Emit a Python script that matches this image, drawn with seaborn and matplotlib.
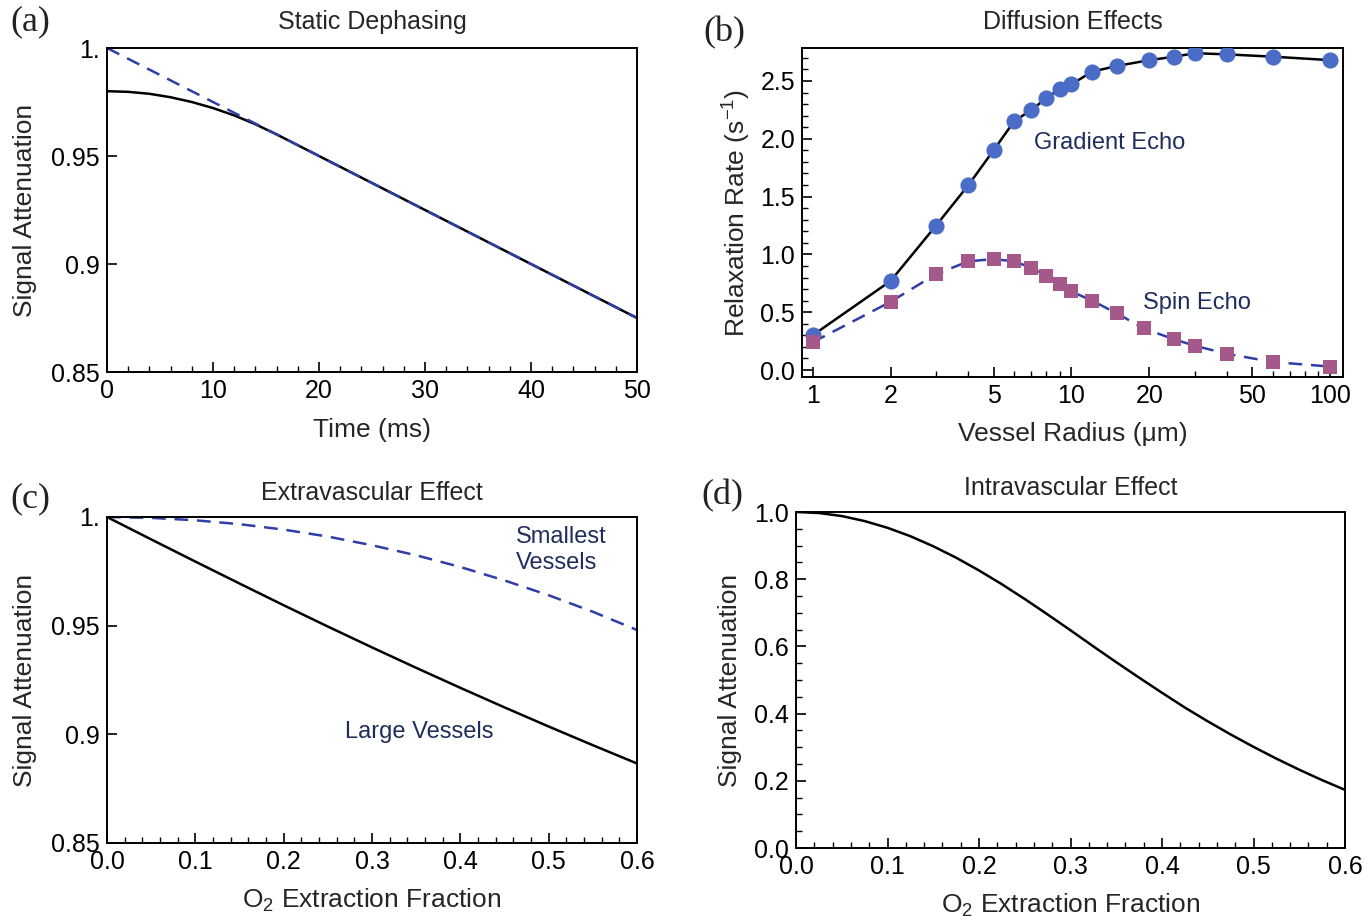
import numpy as np
import pandas as pd
import matplotlib
matplotlib.use("Agg")
import matplotlib.pyplot as plt
import seaborn as sns
from matplotlib.ticker import MultipleLocator, FixedLocator, FixedFormatter, LogLocator, NullFormatter

# ---------------- data ----------------
# (a) Static dephasing
a_time = [0, 2, 4, 6, 8, 10, 12, 14, 16, 18, 20, 30, 40, 50]
a_signal = [0.980, 0.9797, 0.9788, 0.9772, 0.9750, 0.9722, 0.9688, 0.9647,
            0.9600, 0.9550, 0.9500, 0.9250, 0.9000, 0.8750]
a_asym_time = [0, 50]
a_asym_signal = [1.0, 0.875]

# (b) Diffusion effects
b_ge_radius = [1, 2, 3, 4, 5, 6, 7, 8, 9, 10, 12, 15, 20, 25, 30, 40, 60, 100]
b_ge_rate = [0.30, 0.77, 1.25, 1.60, 1.90, 2.15, 2.25, 2.35, 2.43, 2.47, 2.58,
             2.63, 2.68, 2.71, 2.74, 2.73, 2.71, 2.68]
b_se_radius = [1, 2, 3, 4, 5, 6, 7, 8, 9, 10, 12, 15, 19, 25, 30, 40, 60, 100]
b_se_rate = [0.24, 0.59, 0.83, 0.94, 0.96, 0.94, 0.885, 0.815, 0.74, 0.68, 0.60,
             0.49, 0.36, 0.265, 0.21, 0.14, 0.07, 0.03]

# (c) Extravascular effect
c_oef = [0.0, 0.05, 0.1, 0.15, 0.2, 0.25, 0.3, 0.35, 0.4, 0.45, 0.5, 0.55, 0.6]
c_large = [1.0, 0.9897, 0.9795, 0.9694, 0.9594, 0.9496, 0.9400, 0.9306, 0.9214,
           0.9124, 0.9036, 0.8950, 0.8866]
c_small = [1.0, 0.9996, 0.9985, 0.9967, 0.9942, 0.9910, 0.9870, 0.9824, 0.9770,
           0.9708, 0.9640, 0.9564, 0.9480]

# (d) Intravascular effect
d_oef = [0.0, 0.025, 0.05, 0.075, 0.1, 0.125, 0.15, 0.175, 0.2, 0.225, 0.25,
         0.275, 0.3, 0.325, 0.35, 0.375, 0.4, 0.425, 0.45, 0.475, 0.5, 0.525,
         0.55, 0.575, 0.6]
d_signal = [1.000, 0.997, 0.988, 0.973, 0.953, 0.928, 0.898, 0.864, 0.826,
            0.785, 0.741, 0.695, 0.648, 0.600, 0.553, 0.507, 0.462, 0.418,
            0.377, 0.338, 0.301, 0.266, 0.233, 0.202, 0.173]

# ---------------- style ----------------
sns.set_theme(style="ticks")
plt.rcParams["font.family"] = ["Liberation Sans", "DejaVu Sans"]
plt.rcParams["mathtext.fontset"] = "custom"
plt.rcParams["mathtext.rm"] = "Liberation Sans"
plt.rcParams["mathtext.it"] = "Liberation Sans:italic"
plt.rcParams["mathtext.default"] = "rm"

TICK_FS = 18
LABEL_FS = 19
TITLE_FS = 18
ANN_FS = 17
BLUE_DASH = "#2f3ea6"
CIRCLE = "#4a6cc6"
SQUARE = "#a5588a"
NAVY = "#1f2d5c"
DASH = (0, (5.5, 3.5))

W, H = 1370, 916
fig = plt.figure(figsize=(W / 100, H / 100), dpi=100)


def make_ax(l, t, r, b):
    return fig.add_axes([l / W, 1 - b / H, (r - l) / W, (b - t) / H])


def style_ax(ax):
    for s in ax.spines.values():
        s.set_color("black")
        s.set_linewidth(1.4)
    ax.tick_params(which="both", direction="in", top=False, right=False,
                   colors="black", labelsize=TICK_FS, pad=5)
    ax.tick_params(which="major", length=7, width=1.2)
    ax.tick_params(which="minor", length=4, width=1.0)


ax_a = make_ax(107, 48, 637, 372)
ax_b = make_ax(802, 48, 1343, 377)
ax_c = make_ax(107, 517, 637, 843)
ax_d = make_ax(796, 512, 1345, 848)

# ---- (a)
sns.lineplot(x=a_time, y=a_signal, ax=ax_a, color="black", linewidth=1.8,
             estimator=None, sort=False)
sns.lineplot(x=a_asym_time, y=a_asym_signal, ax=ax_a, color=BLUE_DASH,
             linewidth=1.8, estimator=None, sort=False, linestyle=DASH)
ax_a.set_xlim(0, 50)
ax_a.set_ylim(0.85, 1.0)
ax_a.xaxis.set_major_locator(MultipleLocator(10))
ax_a.xaxis.set_minor_locator(MultipleLocator(2))
ax_a.yaxis.set_major_locator(FixedLocator([0.85, 0.9, 0.95, 1.0]))
ax_a.yaxis.set_major_formatter(FixedFormatter(["0.85", "0.9", "0.95", "1."]))
ax_a.set_xlabel("Time (ms)", fontsize=LABEL_FS, labelpad=11)
ax_a.set_ylabel("Signal Attenuation", fontsize=LABEL_FS, labelpad=10)
ax_a.set_title("Static Dephasing", fontsize=TITLE_FS, pad=14)
style_ax(ax_a)

# ---- (b)
sns.lineplot(x=b_ge_radius, y=b_ge_rate, ax=ax_b, color="black", linewidth=1.8,
             estimator=None, sort=False, zorder=2)
sns.lineplot(x=b_se_radius, y=b_se_rate, ax=ax_b, color=BLUE_DASH, linewidth=1.8,
             estimator=None, sort=False, linestyle=DASH, zorder=2)
sns.scatterplot(x=b_ge_radius, y=b_ge_rate, ax=ax_b, color=CIRCLE, marker="o",
                s=135, linewidth=0, zorder=3)
sns.scatterplot(x=b_se_radius, y=b_se_rate, ax=ax_b, color=SQUARE, marker="s",
                s=95, linewidth=0, zorder=3)
ax_b.set_xscale("log")
ax_b.set_xlim(0.91, 112)
ax_b.set_ylim(-0.06, 2.785)
ax_b.xaxis.set_major_locator(FixedLocator([1, 2, 5, 10, 20, 50, 100]))
ax_b.xaxis.set_major_formatter(FixedFormatter(["1", "2", "5", "10", "20", "50", "100"]))
ax_b.xaxis.set_minor_locator(LogLocator(base=10, subs=(3, 4, 6, 7, 8, 9)))
ax_b.xaxis.set_minor_formatter(NullFormatter())
ax_b.yaxis.set_major_locator(MultipleLocator(0.5))
ax_b.yaxis.set_major_formatter(FixedFormatter(["", "0.0", "0.5", "1.0", "1.5", "2.0", "2.5"]))
ax_b.yaxis.set_minor_locator(MultipleLocator(0.1))
ax_b.set_xlabel("Vessel Radius (\u03bcm)", fontsize=LABEL_FS, labelpad=10)
ax_b.set_ylabel("Relaxation Rate (s$^{-1}$)", fontsize=LABEL_FS, labelpad=5)
ax_b.set_title("Diffusion Effects", fontsize=TITLE_FS, pad=14)
ax_b.text(14, 1.96, "Gradient Echo", color=NAVY, fontsize=ANN_FS, ha="center", va="center")
ax_b.text(30.6, 0.58, "Spin Echo", color=NAVY, fontsize=ANN_FS, ha="center", va="center")
style_ax(ax_b)

# ---- (c)
sns.lineplot(x=c_oef, y=c_large, ax=ax_c, color="black", linewidth=1.8,
             estimator=None, sort=False)
sns.lineplot(x=c_oef, y=c_small, ax=ax_c, color=BLUE_DASH, linewidth=1.8,
             estimator=None, sort=False, linestyle=DASH)
ax_c.set_xlim(0, 0.6)
ax_c.set_ylim(0.85, 1.0)
ax_c.xaxis.set_major_locator(MultipleLocator(0.1))
ax_c.xaxis.set_major_formatter(FixedFormatter(["", "0.0", "0.1", "0.2", "0.3", "0.4", "0.5", "0.6"]))
ax_c.xaxis.set_minor_locator(MultipleLocator(0.02))
ax_c.yaxis.set_major_locator(FixedLocator([0.85, 0.9, 0.95, 1.0]))
ax_c.yaxis.set_major_formatter(FixedFormatter(["0.85", "0.9", "0.95", "1."]))
ax_c.set_xlabel("O$_2$ Extraction Fraction", fontsize=LABEL_FS, labelpad=9)
ax_c.set_ylabel("Signal Attenuation", fontsize=LABEL_FS, labelpad=10)
ax_c.set_title("Extravascular Effect", fontsize=TITLE_FS, pad=12)
ax_c.text(0.463, 0.9848, "Smallest\nVessels", color=NAVY, fontsize=ANN_FS,
          ha="left", va="center", multialignment="left", linespacing=1.25)
ax_c.text(0.354, 0.901, "Large Vessels", color=NAVY, fontsize=ANN_FS, ha="center", va="center")
style_ax(ax_c)

# ---- (d)
sns.lineplot(x=d_oef, y=d_signal, ax=ax_d, color="black", linewidth=1.8,
             estimator=None, sort=False)
ax_d.set_xlim(0, 0.6)
ax_d.set_ylim(0, 1.0)
ax_d.xaxis.set_major_locator(MultipleLocator(0.1))
ax_d.xaxis.set_major_formatter(FixedFormatter(["", "0.0", "0.1", "0.2", "0.3", "0.4", "0.5", "0.6"]))
ax_d.xaxis.set_minor_locator(MultipleLocator(0.02))
ax_d.yaxis.set_major_locator(MultipleLocator(0.2))
ax_d.yaxis.set_major_formatter(FixedFormatter(["", "0.0", "0.2", "0.4", "0.6", "0.8", "1.0"]))
ax_d.yaxis.set_minor_locator(MultipleLocator(0.05))
ax_d.set_xlabel("O$_2$ Extraction Fraction", fontsize=LABEL_FS, labelpad=9)
ax_d.set_ylabel("Signal Attenuation", fontsize=LABEL_FS, labelpad=9)
ax_d.set_title("Intravascular Effect", fontsize=TITLE_FS, pad=12)
style_ax(ax_d)

for ax in (ax_a, ax_b, ax_c, ax_d):
    leg = ax.get_legend()
    if leg is not None:
        leg.remove()

# panel letters
for txt, x, y in [("(a)", 10, 22), ("(b)", 703, 33), ("(c)", 10, 499), ("(d)", 701, 496)]:
    fig.text(x / W, 1 - y / H, txt, fontsize=26, family="Liberation Serif",
             ha="left", va="center", color="#222222")

fig.savefig("out.png", dpi=100)
